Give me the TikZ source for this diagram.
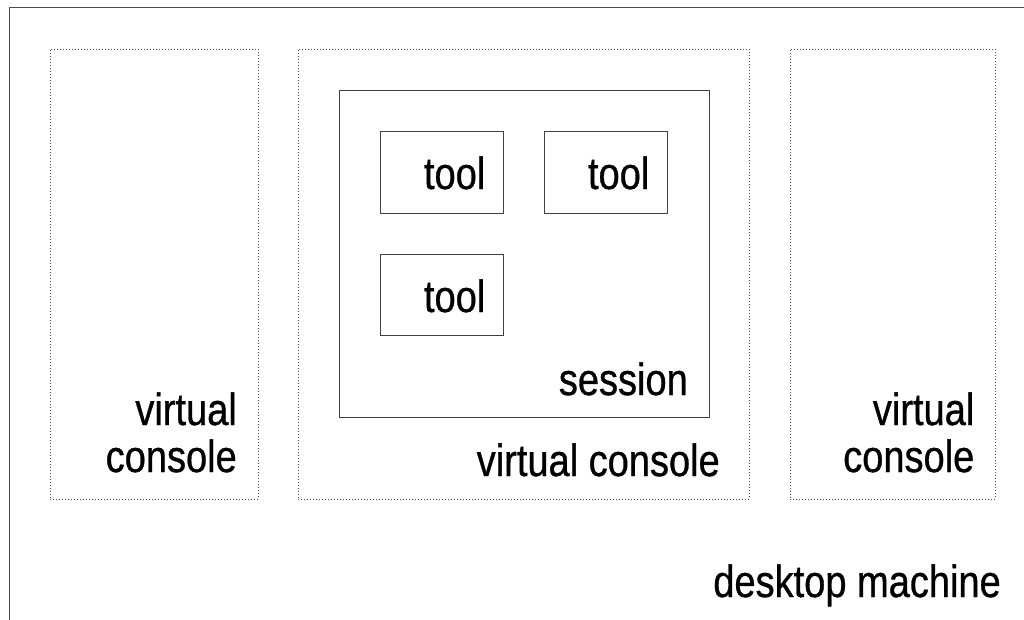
\documentclass[tikz,border=0pt]{standalone}
\usepackage{graphicx}
\usepackage{fontspec}
\setmainfont{Liberation Sans}
\newfontfamily\lblfont{Liberation Sans}[FakeBold=0.8]
\newcommand\narrowtxt[1]{\scalebox{0.845}[1]{\begin{tabular}[b]{@{}r@{}}#1\end{tabular}}}
\begin{document}
\begin{tikzpicture}[x=1pt,y=-1pt,
  solidbox/.style={draw=black!75,line width=1pt,rectangle,inner sep=0pt,anchor=north west},
  dotbox/.style={draw=black!70,line width=1pt,dash pattern=on 1pt off 2pt,rectangle,inner sep=0pt,anchor=north west},
  lbl/.style={inner sep=0pt,anchor=base east,font=\lblfont\fontsize{45}{47}\selectfont},
  frame/.style={draw=black!70,line width=1.6pt}]
\useasboundingbox (0,0) rectangle (1024,619);
\coordinate (ftr) at (1030,7.5);
\coordinate (ftl) at (9.5,7.5);
\coordinate (fbl) at (9.5,625);
\draw[frame] (ftr) -- (ftl) -- (fbl);
% virtual consoles
\node[dotbox,minimum width=208pt,minimum height=450pt] (vc1) at (49.5,48.5) {};
\node[dotbox,minimum width=451pt,minimum height=450pt] (vc2) at (297.5,48.5) {};
\node[dotbox,minimum width=205pt,minimum height=450pt] (vc3) at (789.5,48.5) {};
% session
\node[solidbox,minimum width=370pt,minimum height=327pt] (sess) at (338.5,89.5) {};
% tools
\node[solidbox,minimum width=123pt,minimum height=82pt] (t1) at (379.5,130.5) {};
\node[solidbox,minimum width=123pt,minimum height=82pt] (t2) at (543.5,130.5) {};
\node[solidbox,minimum width=123pt,minimum height=81pt] (t3) at (379.5,253.5) {};
% labels
\node[lbl] (t1l) at (485.5,189) {\narrowtxt{tool}};
\node[lbl] (t2l) at (649.5,189) {\narrowtxt{tool}};
\node[lbl] (t3l) at (485.5,312) {\narrowtxt{tool}};
\node[lbl] (sl) at (688,395) {\narrowtxt{session}};
\node[lbl] (vc2l) at (720,476) {\narrowtxt{virtual console}};
\node[lbl] (vc1l) at (237,472) {\narrowtxt{virtual\\console}};
\node[lbl] (vc3l) at (974.5,472) {\narrowtxt{virtual\\console}};
\node[lbl] (dm) at (1001,597) {\narrowtxt{desktop machine}};
\end{tikzpicture}
\end{document}
